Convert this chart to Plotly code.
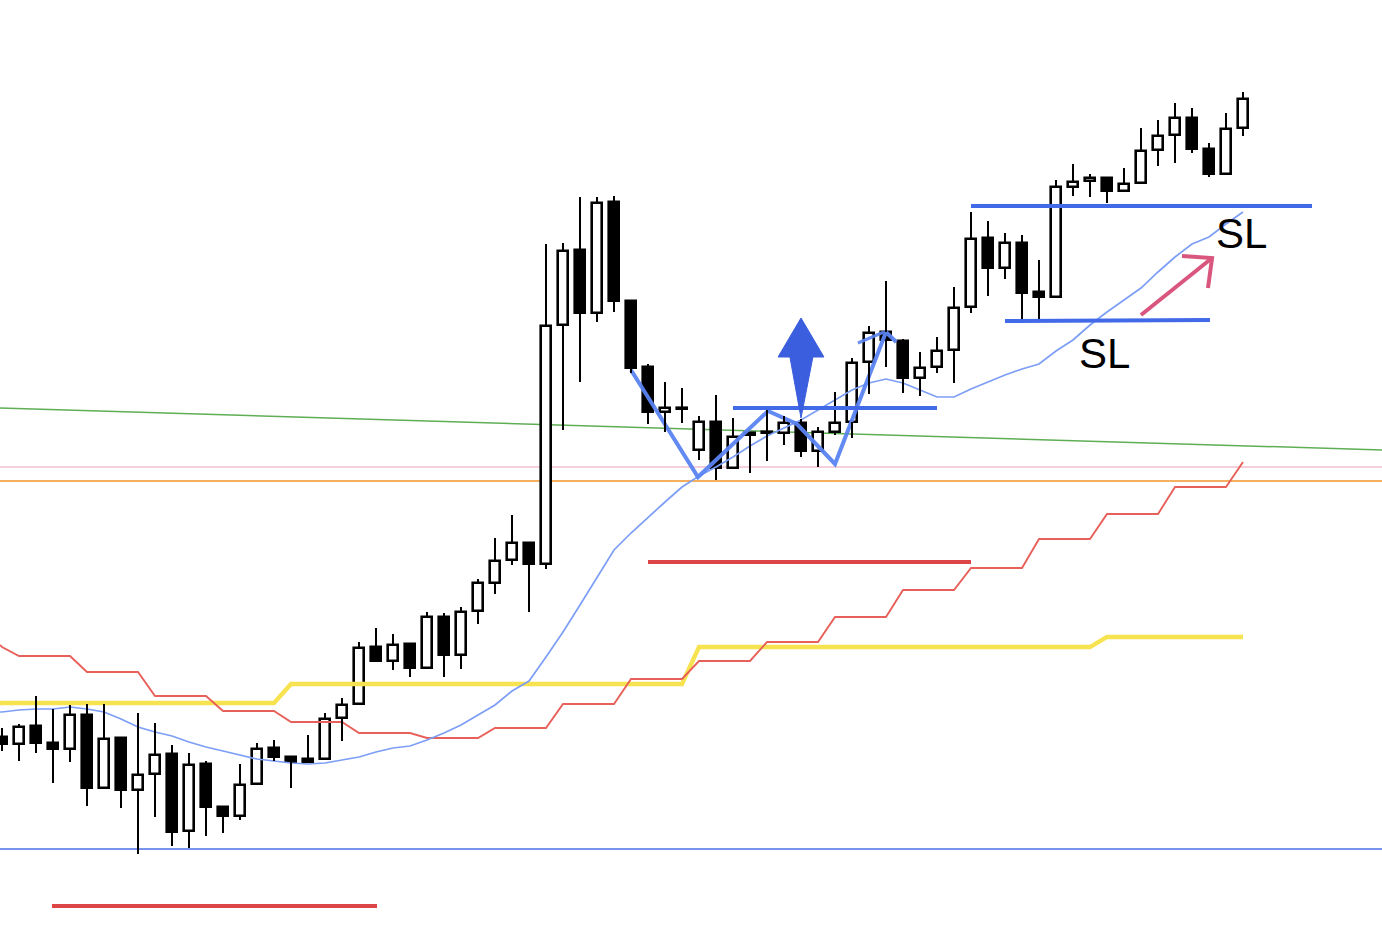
import plotly.graph_objects as go

# ---------------- data (price units) ----------------
opens = [207, 200, 218, 201, 195, 229, 156, 206, 154, 170,
         190, 113, 180, 137, 128, 160, 196, 187, 185, 185,
         226, 240, 297, 283, 300, 276, 327, 289, 333, 361,
         384, 401, 380, 619, 694, 631, 742, 643, 577, 532,
         536, 494, 522, 476, 511, 512, 511, 521, 493, 512,
         522, 582, 612, 603, 566, 577, 594, 637, 706, 676,
         701, 652, 647, 757, 763, 766, 753, 761, 794, 809,
         826, 795, 770, 816]
highs = [216, 220, 248, 235, 239, 240, 240, 207, 231, 221,
         199, 191, 183, 138, 180, 201, 204, 188, 209, 231,
         246, 302, 316, 310, 301, 332, 331, 337, 365, 406,
         429, 402, 700, 701, 747, 747, 748, 644, 580, 562,
         556, 528, 549, 526, 512, 534, 528, 525, 517, 552,
         586, 618, 663, 605, 592, 607, 657, 732, 723, 711,
         709, 684, 764, 780, 770, 767, 776, 816, 824, 841,
         836, 801, 831, 852]
lows = [193, 183, 191, 161, 182, 138, 155, 136, 90, 127,
        98, 96, 108, 111, 124, 159, 183, 156, 181, 184,
        203, 239, 282, 274, 267, 275, 267, 275, 320, 350,
        379, 332, 375, 514, 562, 622, 632, 571, 520, 512,
        521, 484, 464, 475, 471, 483, 499, 487, 477, 509,
        506, 550, 577, 551, 548, 571, 561, 631, 648, 665,
        623, 623, 646, 748, 747, 741, 752, 760, 778, 781,
        791, 767, 769, 808]
closes = [200, 217, 201, 195, 229, 156, 205, 154, 169, 189,
          112, 179, 137, 128, 159, 195, 187, 182, 182, 225,
          239, 296, 283, 299, 276, 327, 289, 332, 361, 383,
          401, 380, 618, 693, 631, 741, 643, 576, 532, 536,
          535, 522, 476, 507, 509, 511, 521, 493, 512, 521,
          581, 611, 604, 566, 576, 593, 636, 705, 676, 701,
          651, 647, 757, 762, 766, 753, 760, 793, 808, 826,
          795, 770, 815, 845]

ma_line = [232, 234, 235, 235, 237, 235, 232, 225, 217, 212,
           208, 202, 197, 193, 189, 185, 183, 181, 180, 181,
           184, 187, 192, 196, 198, 204, 211, 219, 229, 239,
           253, 263, 287, 312, 339, 367, 394, 411, 427, 442,
           457, 468, 477, 487, 498, 508, 516, 524, 534, 544,
           554, 561, 565, 561, 554, 547, 547, 555, 562, 569,
           575, 580, 593, 604, 619, 632, 644, 656, 672, 687,
           700, 707, 720, 732]

red_step = ([297] + [288] * 4 + [272] * 4 + [248] * 4 + [233] * 4 + [222] * 4 +
            [211] * 4 + [206] * 4 + [216] * 4 + [240] * 4 + [265] * 4 + [283] * 4 +
            [302] * 4 + [327] * 4 + [354] * 4 + [376] * 4 + [405] * 4 + [430] * 4 +
            [457] * 4 + [482])

yellow_step = [241] * 17 + [260] * 24 + [297] * 24 + [307] * 9

# drawn annotations (candle index, price)
zig_x = [37.0, 40.94, 45.06, 46.76, 49.0, 52.0, 52.6]
zig_y = [574, 467, 533, 520, 480, 612, 602]
zig2_x = [50.35, 51.88]
zig2_y = [601, 612]

green_level = (536, 494)      # left, right
pink_level = 477
orange_level = 463
bottom_blue_level = 95

red_segments = [((2.94, 38), (22.06, 38)), ((38.0, 382), (57.0, 382))]
blue_segments = [((43.0, 536), (55.0, 536)),
                 ((57.0, 738), (77.06, 738)),
                 ((59.0, 623), (71.06, 624))]

up_arrow = [(47.0, 626), (48.35, 587), (47.7, 587), (47.0, 526),
            (46.35, 587), (45.65, 587)]
pink_arrow_shaft = ((67.0, 629), (71.18, 686))
pink_arrow_head = [(69.41, 688), (71.18, 686), (70.94, 656)]

sl_labels = [(72.94, 711, "SL"), (64.88, 591, "SL")]

# ---------------- figure ----------------
n = len(opens)
idx = list(range(n))

fig = go.Figure()

# background level lines
fig.add_shape(type="line", xref="paper", x0=0, x1=1, y0=green_level[0], y1=green_level[1],
              line=dict(color="#5FAE55", width=1.5), layer="below")
fig.add_shape(type="line", xref="paper", x0=0, x1=1, y0=pink_level, y1=pink_level,
              line=dict(color="#F2BFCD", width=1.5), layer="below")
fig.add_shape(type="line", xref="paper", x0=0, x1=1, y0=orange_level, y1=orange_level,
              line=dict(color="#F0952A", width=1.5), layer="below")
fig.add_shape(type="line", xref="paper", x0=0, x1=1, y0=bottom_blue_level, y1=bottom_blue_level,
              line=dict(color="#4B70E8", width=1.5), layer="below")

# yellow & red step lines, MA
fig.add_trace(go.Scatter(x=[-0.12] + idx, y=[yellow_step[0]] + yellow_step, mode="lines",
                         line=dict(color="#F7E34F", width=4.3), hoverinfo="skip"))
fig.add_trace(go.Scatter(x=[-0.12] + idx, y=[299] + red_step, mode="lines",
                         line=dict(color="#E8605A", width=1.9), hoverinfo="skip"))
fig.add_trace(go.Scatter(x=[-0.12] + idx, y=[ma_line[0]] + ma_line, mode="lines",
                         line=dict(color="#7D9EF6", width=1.7), hoverinfo="skip"))

# zigzag
fig.add_trace(go.Scatter(x=zig_x, y=zig_y, mode="lines",
                         line=dict(color="#5A84F2", width=4), opacity=0.95, hoverinfo="skip"))
fig.add_trace(go.Scatter(x=zig2_x, y=zig2_y, mode="lines",
                         line=dict(color="#5A84F2", width=3), opacity=0.9, hoverinfo="skip"))

# wicks (upper and lower parts only, so they never cross the bodies)
wx, wy = [], []
for i in idx:
    top = max(opens[i], closes[i])
    bot = min(opens[i], closes[i])
    if highs[i] > top:
        wx += [i, i, None]
        wy += [top, highs[i], None]
    if lows[i] < bot:
        wx += [i, i, None]
        wy += [lows[i], bot, None]
fig.add_trace(go.Scatter(x=wx, y=wy, mode="lines", line=dict(color="black", width=2),
                         hoverinfo="skip"))

# bodies
base = [min(o, c) for o, c in zip(opens, closes)]
height = [max(abs(c - o), 0.6) for o, c in zip(opens, closes)]
fill = ["white" if c > o else "black" for o, c in zip(opens, closes)]
fig.add_trace(go.Bar(x=idx, y=height, base=base, width=0.62,
                     marker=dict(color=fill, line=dict(color="black", width=2.6)),
                     hoverinfo="skip"))

# thick red / blue segments
for (x0, y0), (x1, y1) in red_segments:
    fig.add_shape(type="line", x0=x0, x1=x1, y0=y0, y1=y1,
                  line=dict(color="#DD4646", width=4), layer="above")
for (x0, y0), (x1, y1) in blue_segments:
    fig.add_shape(type="line", x0=x0, x1=x1, y0=y0, y1=y1,
                  line=dict(color="#4169E8", width=4), layer="above")

# big up arrow
path = "M " + " L ".join(f"{x} {y}" for x, y in up_arrow) + " Z"
fig.add_shape(type="path", path=path, fillcolor="#3A5EDE", line=dict(color="#3A5EDE", width=1),
              layer="above")

# pink arrow
(sx0, sy0), (sx1, sy1) = pink_arrow_shaft
fig.add_shape(type="line", x0=sx0, y0=sy0, x1=sx1, y1=sy1,
              line=dict(color="#D9577F", width=4), layer="above")
hp = "M " + " L ".join(f"{x} {y}" for x, y in pink_arrow_head)
fig.add_shape(type="path", path=hp, line=dict(color="#D9577F", width=4), layer="above")

# SL labels
for x, y, t in sl_labels:
    fig.add_annotation(x=x, y=y, text=t, showarrow=False,
                       font=dict(family="Liberation Sans, Arial", size=42, color="black"),
                       xanchor="center", yanchor="middle")

fig.update_layout(
    width=1382, height=944,
    margin=dict(l=0, r=0, t=0, b=0),
    paper_bgcolor="white", plot_bgcolor="white",
    showlegend=False, bargap=0,
    xaxis=dict(range=[-2 / 17, 1380 / 17], visible=False, fixedrange=True),
    yaxis=dict(range=[0, 944], visible=False, fixedrange=True),
)

fig.write_html("out.html", config={"displayModeBar": False},
               post_script="document.body.style.margin='0';document.body.style.overflow='hidden';")
